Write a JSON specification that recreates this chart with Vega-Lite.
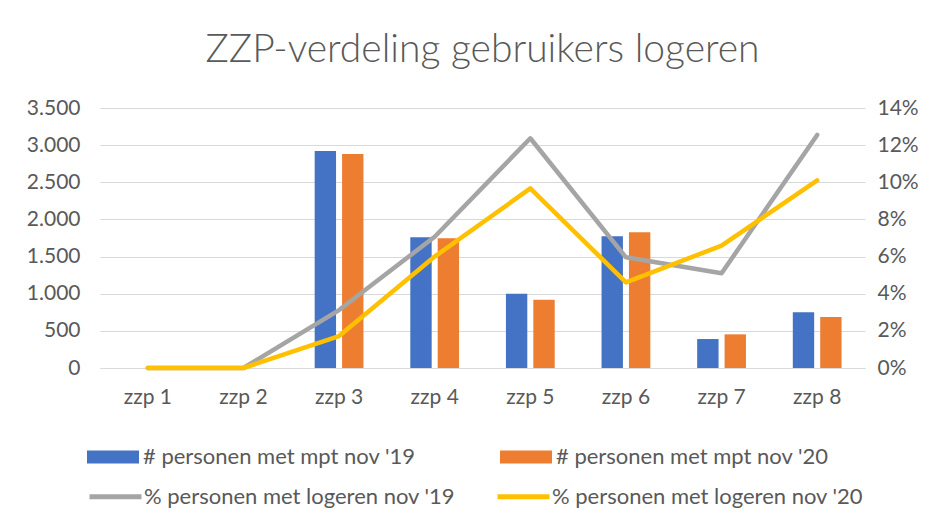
{
  "$schema": "https://vega.github.io/schema/vega-lite/v6.json",
  "autosize": {"type": "none"},
  "padding": {"left": 100, "top": 108, "right": 65, "bottom": 160},
  "width": 765,
  "height": 260,
  "background": "white",
  "title": {
    "text": "ZZP-verdeling gebruikers logeren",
    "font": "Lato",
    "fontWeight": 300,
    "fontSize": 39,
    "color": "#595959",
    "anchor": "middle",
    "offset": 27
  },
  "datasets": {
    "bars": [
      {"zzp": "zzp 1", "series": "# personen met mpt nov '19", "value": 0},
      {"zzp": "zzp 1", "series": "# personen met mpt nov '20", "value": 0},
      {"zzp": "zzp 2", "series": "# personen met mpt nov '19", "value": 0},
      {"zzp": "zzp 2", "series": "# personen met mpt nov '20", "value": 0},
      {"zzp": "zzp 3", "series": "# personen met mpt nov '19", "value": 2920},
      {"zzp": "zzp 3", "series": "# personen met mpt nov '20", "value": 2880},
      {"zzp": "zzp 4", "series": "# personen met mpt nov '19", "value": 1760},
      {"zzp": "zzp 4", "series": "# personen met mpt nov '20", "value": 1746},
      {"zzp": "zzp 5", "series": "# personen met mpt nov '19", "value": 1000},
      {"zzp": "zzp 5", "series": "# personen met mpt nov '20", "value": 920},
      {"zzp": "zzp 6", "series": "# personen met mpt nov '19", "value": 1773},
      {"zzp": "zzp 6", "series": "# personen met mpt nov '20", "value": 1827},
      {"zzp": "zzp 7", "series": "# personen met mpt nov '19", "value": 390},
      {"zzp": "zzp 7", "series": "# personen met mpt nov '20", "value": 453},
      {"zzp": "zzp 8", "series": "# personen met mpt nov '19", "value": 750},
      {"zzp": "zzp 8", "series": "# personen met mpt nov '20", "value": 687}
    ],
    "lines": [
      {"zzp": "zzp 1", "series": "% personen met logeren nov '19", "pct": 0},
      {"zzp": "zzp 2", "series": "% personen met logeren nov '19", "pct": 0},
      {"zzp": "zzp 3", "series": "% personen met logeren nov '19", "pct": 0.0312},
      {"zzp": "zzp 4", "series": "% personen met logeren nov '19", "pct": 0.0707},
      {"zzp": "zzp 5", "series": "% personen met logeren nov '19", "pct": 0.1237},
      {"zzp": "zzp 6", "series": "% personen met logeren nov '19", "pct": 0.0596},
      {"zzp": "zzp 7", "series": "% personen met logeren nov '19", "pct": 0.051},
      {"zzp": "zzp 8", "series": "% personen met logeren nov '19", "pct": 0.1255},
      {"zzp": "zzp 1", "series": "% personen met logeren nov '20", "pct": 0},
      {"zzp": "zzp 2", "series": "% personen met logeren nov '20", "pct": 0},
      {"zzp": "zzp 3", "series": "% personen met logeren nov '20", "pct": 0.0172},
      {"zzp": "zzp 4", "series": "% personen met logeren nov '20", "pct": 0.060},
      {"zzp": "zzp 5", "series": "% personen met logeren nov '20", "pct": 0.0967},
      {"zzp": "zzp 6", "series": "% personen met logeren nov '20", "pct": 0.0461},
      {"zzp": "zzp 7", "series": "% personen met logeren nov '20", "pct": 0.0659},
      {"zzp": "zzp 8", "series": "% personen met logeren nov '20", "pct": 0.101}
    ]
  },
  "config": {
    "font": "Lato",
    "view": {"stroke": null},
    "axis": {
      "labelFont": "Lato",
      "labelFontSize": 21,
      "labelColor": "#595959",
      "titleColor": "#595959",
      "ticks": false,
      "domain": false,
      "gridColor": "#D9D9D9",
      "gridWidth": 1
    },
    "legend": {
      "labelFont": "Lato",
      "labelFontSize": 22,
      "labelColor": "#595959",
      "padding": 0,
      "labelLimit": 500
    }
  },
  "layer": [
    {
      "data": {"name": "bars"},
      "mark": {"type": "bar"},
      "encoding": {
        "x": {
          "field": "zzp",
          "type": "nominal",
          "sort": null,
          "scale": {"paddingInner": 0.49, "paddingOuter": 0.245},
          "axis": {"title": null, "labelAngle": 0, "labelPadding": 18, "grid": false, "domain": true, "domainColor": "#D9D9D9", "domainWidth": 1}
        },
        "xOffset": {
          "field": "series",
          "type": "nominal",
          "sort": null,
          "scale": {"paddingInner": 0.22, "paddingOuter": 0}
        },
        "y": {
          "field": "value",
          "type": "quantitative",
          "scale": {"domain": [0, 3500], "nice": false},
          "axis": {
            "title": null,
            "values": [0, 500, 1000, 1500, 2000, 2500, 3000, 3500],
            "labelExpr": "replace(format(datum.value, ','), ',', '.')",
            "labelPadding": 20,
            "grid": true
          }
        },
        "fill": {
          "field": "series",
          "type": "nominal",
          "scale": {"domain": ["# personen met mpt nov '19", "# personen met mpt nov '20"], "range": ["#4472C4", "#ED7D31"]},
          "legend": {
            "title": null,
            "orient": "none",
            "legendX": -13,
            "legendY": 323,
            "direction": "horizontal",
            "columns": 2,
            "columnPadding": 84,
            "symbolType": "M-1,-0.25H1V0.25H-1Z",
            "symbolSize": 2704,
            "symbolStrokeWidth": 0,
            "symbolOpacity": 1,
            "labelOffset": 4
          }
        }
      }
    },
    {
      "data": {"name": "lines"},
      "mark": {"type": "line", "strokeWidth": 4.5, "strokeCap": "round", "strokeJoin": "round"},
      "encoding": {
        "x": {"field": "zzp", "type": "nominal", "sort": null},
        "y": {
          "field": "pct",
          "type": "quantitative",
          "scale": {"domain": [0, 0.14], "nice": false},
          "axis": {
            "title": null,
            "orient": "right",
            "values": [0, 0.02, 0.04, 0.06, 0.08, 0.1, 0.12, 0.14],
            "format": ".0%",
            "labelPadding": 12,
            "grid": false
          }
        },
        "stroke": {
          "field": "series",
          "type": "nominal",
          "scale": {"domain": ["% personen met logeren nov '19", "% personen met logeren nov '20"], "range": ["#A5A5A5", "#FFC000"]},
          "legend": {
            "title": null,
            "orient": "none",
            "legendX": -13,
            "legendY": 360,
            "direction": "horizontal",
            "columns": 2,
            "columnPadding": 31,
            "symbolType": "stroke",
            "symbolSize": 2704,
            "symbolStrokeWidth": 5,
            "labelOffset": 0
          }
        }
      }
    }
  ],
  "resolve": {"scale": {"y": "independent"}}
}
